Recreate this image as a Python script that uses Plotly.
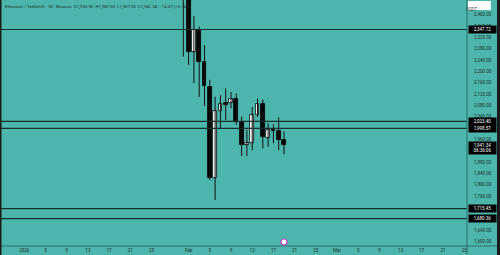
import pandas as pd
import plotly.graph_objects as go

# ---- data ----
dates = pd.date_range("2026-01-31", "2026-02-19", freq="D")
opens  = [2620, 2470, 2269, 2346, 2232, 2146, 1825, 2061, 2087, 2088, 2102, 2020, 1940, 1946, 2046, 2085, 1966, 1995, 1989, 1955.90]
highs  = [2650, 2500, 2395, 2358, 2293, 2170, 2110, 2116, 2140, 2127, 2122, 2040, 1993, 2074, 2104, 2101, 2017, 2014, 2038, 1987.55]
lows   = [2252, 2222, 2159, 2110, 2078, 1816, 1746, 2000, 2028, 2070, 2011, 1901, 1901, 1922, 2039, 1928, 1934, 1946, 1922, 1907.00]
closes = [2470, 2269, 2346, 2234, 2148, 1825, 2060, 2084, 2082, 2103, 2022, 1940, 1947, 2046, 2084, 1967, 1993, 1989, 1955.9, 1941.34]

level_values = [2347.72, 2023.40, 1998.57, 1715.45, 1680.36]
level_labels = ["2,347.72", "2,023.40", "1,998.57", "1,715.45", "1,680.36"]

last_price = 1941.34
last_label = "1,941.34<br>06:36:06"

ytick_vals = [2400, 2360, 2320, 2280, 2240, 2200, 2160, 2120, 2080, 2040, 1960, 1880, 1840, 1800, 1760, 1640, 1600]
xtick_dates = ["2026-01-01", "2026-01-05", "2026-01-09", "2026-01-13", "2026-01-17", "2026-01-21", "2026-01-25",
               "2026-02-01", "2026-02-05", "2026-02-09", "2026-02-13", "2026-02-17", "2026-02-21", "2026-02-25",
               "2026-03-01", "2026-03-05", "2026-03-09", "2026-03-13", "2026-03-17", "2026-03-21", "2026-03-25"]
xtick_text = ["2026", "5", "9", "13", "17", "21", "25", "Feb", "5", "9", "13", "17", "21", "25",
              "Mar", "5", "9", "13", "17", "21", "25"]

title_text = "Ethereum / TetherUS · 1D · Binance  O1,955.90  H1,987.55  L1,907.00  C1,941.34  −14.57 (−0.74%)"

BG = "#4DB6AC"
TXT = "#1f2d2b"
LINE = "#17302d"

fig = go.Figure()

# wicks
wx, wy = [], []
for d, h, l in zip(dates, highs, lows):
    wx += [d, d, None]
    wy += [l, h, None]
fig.add_trace(go.Scatter(x=wx, y=wy, mode="lines", line=dict(color="#111", width=1),
                         hoverinfo="skip", showlegend=False))

# bodies
up = [c >= o for o, c in zip(opens, closes)]
base = [min(o, c) for o, c in zip(opens, closes)]
height = [max(abs(c - o), 2.5) for o, c in zip(opens, closes)]
colors = ["#ffffff" if u else "#000000" for u in up]
fig.add_trace(go.Bar(x=dates, y=height, base=base, width=0.72 * 86400000,
                     marker=dict(color=colors, line=dict(color="#000", width=0.8)),
                     hoverinfo="skip", showlegend=False))

# horizontal levels
for v, lab in zip(level_values, level_labels):
    fig.add_hline(y=v, line=dict(color=LINE, width=1.2))
    fig.add_annotation(x=1.0, xref="paper", xanchor="left", xshift=1, y=v, yref="y",
                       text=lab, showarrow=False, bgcolor="#000", width=26, height=6,
                       font=dict(color="#fff", size=4.5, family="Roboto"), borderpad=0.5)

# last price label
fig.add_annotation(x=1.0, xref="paper", xanchor="left", xshift=1, y=last_price, yref="y",
                   yanchor="top", yshift=4, text=last_label, showarrow=False, bgcolor="#000",
                   width=26, font=dict(color="#fff", size=4.5, family="Roboto"), borderpad=0.5)

# title
fig.add_annotation(x=0, xref="paper", xanchor="left", xshift=3, y=1, yref="paper", yanchor="top",
                   yshift=-2, text=title_text, showarrow=False,
                   font=dict(color=TXT, size=4.3, family="Roboto"))

# USDT box
fig.add_shape(type="rect", xref="paper", yref="paper", x0=1.002, x1=1.051, y0=1 - 10 / 246, y1=1 - 1 / 246,
              fillcolor="#ffffff", line=dict(width=0), layer="above")
fig.add_annotation(x=1.0265, xref="paper", y=1 - 5.5 / 246, yref="paper", text="USDT", showarrow=False,
                   font=dict(color="#444", size=4.5, family="Roboto"))

# borders
fig.add_shape(type="line", xref="paper", yref="paper", x0=1, x1=1, y0=-0.04, y1=1,
              line=dict(color="#2c6f68", width=1), layer="above")
fig.add_shape(type="line", xref="paper", yref="paper", x0=0, x1=1.07, y0=0, y1=0,
              line=dict(color="#2c6f68", width=1), layer="above")
fig.add_shape(type="rect", xref="paper", yref="paper", x0=497 / 467, x1=501 / 467, y0=-0.05, y1=1.01,
              fillcolor="#1a1a1a", line=dict(width=0), layer="above")
fig.add_shape(type="rect", xref="paper", yref="paper", x0=-0.01, x1=1.5 / 467, y0=-0.05, y1=1.01,
              fillcolor="#1a1a1a", line=dict(width=0), layer="above")

# event icon
fig.add_shape(type="circle", xref="x", yref="paper", xsizemode="pixel", ysizemode="pixel",
              xanchor="2026-02-19", x0=-3, x1=3, yanchor=4 / 246, y0=-3, y1=3,
              fillcolor="#ffffff", line=dict(color="#c048c8", width=1.2), layer="above")

fig.update_layout(
    width=500, height=255,
    margin=dict(l=0, r=33, t=0, b=9),
    paper_bgcolor=BG, plot_bgcolor=BG,
    bargap=0, showlegend=False,
    xaxis=dict(type="date", range=["2025-12-27 10:00", "2026-03-25 12:30"],
               tickvals=xtick_dates, ticktext=xtick_text, showgrid=False, zeroline=False,
               tickfont=dict(size=4.5, color=TXT, family="Roboto"), ticks="", showline=False,
               fixedrange=True),
    yaxis=dict(side="right", range=[1583.4, 2451.9], tickvals=ytick_vals,
               ticktext=[f"{v:,.2f}" for v in ytick_vals], showgrid=False, zeroline=False,
               tickfont=dict(size=4.5, color=TXT, family="Roboto"), ticks="", ticklabelstandoff=6,
               showline=False, fixedrange=True),
)

fig.write_html("out.html", config={"displayModeBar": False})
